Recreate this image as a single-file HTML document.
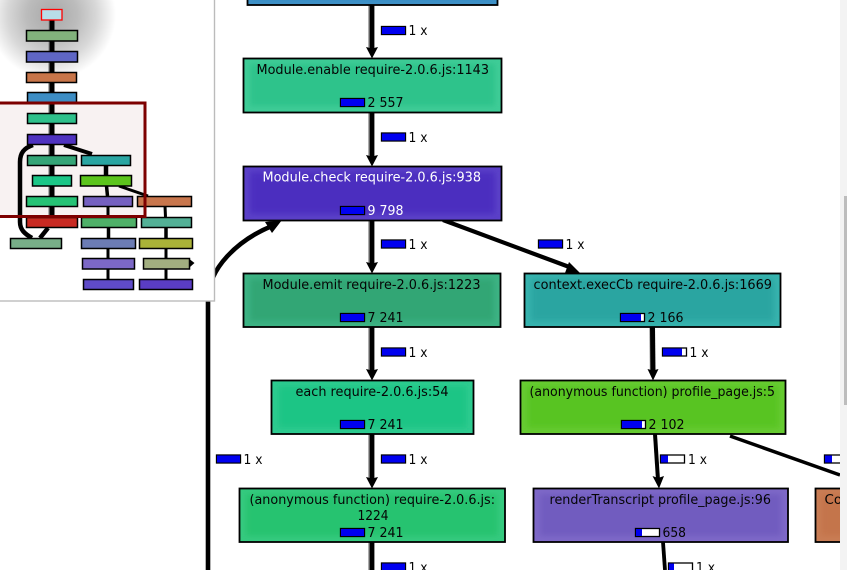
<!DOCTYPE html>
<html>
<head>
<meta charset="utf-8">
<style>
html,body{margin:0;padding:0;background:#fff;width:847px;height:570px;overflow:hidden}
svg{display:block}
text{font-family:"DejaVu Sans","Liberation Sans",sans-serif;font-size:13px;fill:#050505}
.w{fill:#fff}
.e{stroke:#000;fill:none}
.s{stroke:#999;fill:none}
.bar{fill:#fff;stroke:#000;stroke-width:1.3}
.blue{fill:#0000f0}
.m{stroke:#000;stroke-width:1.5}
.o{fill:none;stroke:#000;stroke-width:1.8}
</style>
</head>
<body>
<svg width="847" height="570" viewBox="0 0 847 570" xmlns="http://www.w3.org/2000/svg">
<defs>
<filter id="b" x="-10%" y="-20%" width="120%" height="140%"><feGaussianBlur stdDeviation="3"/></filter>
<filter id="mb" x="-10%" y="-30%" width="120%" height="160%"><feGaussianBlur stdDeviation="0.3"/></filter>
<radialGradient id="glow" cx="52" cy="15" r="64" gradientUnits="userSpaceOnUse">
<stop offset="0" stop-color="#a8a8a8"/><stop offset="0.4" stop-color="#bcbcbc"/><stop offset="0.7" stop-color="#d8d8d8"/><stop offset="1" stop-color="#fff"/>
</radialGradient>
</defs>
<rect width="847" height="570" fill="#fff"/>

<!-- main edges -->
<g>
<path class="s" stroke-width="1.6" d="M369 5V50M369 112V158M369 220V265M369 327V372M369 434V480M369 542V570"/>
<path class="e" stroke-width="4.8" d="M372 5V50M372 112V158M372 220V265M372 327V372M372 434V480M372 542V570"/>
<path fill="#000" d="M366 47L372 48.500L378 47L372 58.500ZM366 155L372 156.500L378 155L372 166.500ZM366 262L372 263.500L378 262L372 273.500ZM366 369L372 370.500L378 369L372 380.500ZM366 477L372 478.500L378 477L372 488.500Z"/>
<path class="e" stroke-width="4.2" d="M443 220L572 268"/>
<path fill="#000" d="M580 273L565 273L569 262Z"/>
<path class="s" stroke-width="1.4" d="M650 327L650.500 372"/>
<path class="e" stroke-width="5" d="M652.500 327L653 372"/>
<path fill="#000" d="M647.500 369L653 370.500L658.500 369L653 380.500Z"/>
<path class="e" stroke-width="4" d="M655 434L658 480"/>
<path fill="#000" d="M652.500 476L658 478L664 476L659 488.500Z"/>
<path class="e" stroke-width="3.500" d="M730 436L840 475"/>
<path class="e" stroke-width="3.800" d="M663 542L665 570"/>
<path class="e" stroke-width="4.600" d="M208 570V300C208 268 238 240 272 226"/>
<path fill="#000" d="M282 220L272 233L265 222Z"/>
</g>

<!-- top node -->
<g><rect x="247.500" y="-20" width="250" height="25" fill="#3f92c8"/><rect x="252" y="-20" width="241" height="21" fill="#388bc2" filter="url(#b)"/><rect class="o" x="247.500" y="-20" width="250" height="25"/></g>

<!-- Module.enable -->
<g><rect x="243.500" y="58.500" width="258" height="54" fill="#3fcc97"/><rect x="250" y="64" width="245" height="42" fill="#2ec38b" filter="url(#b)"/><rect class="o" x="243.500" y="58.500" width="258" height="54"/>
<text x="256.500" y="74" textLength="232.500" lengthAdjust="spacingAndGlyphs">Module.enable require-2.0.6.js:1143</text>
<rect class="bar" x="340.500" y="98.500" width="24" height="8"/><rect class="blue" x="341" y="99" width="23" height="7"/>
<text x="367.500" y="107" textLength="36" lengthAdjust="spacingAndGlyphs">2 557</text></g>

<!-- Module.check -->
<g><rect x="243.500" y="166.500" width="258" height="54" fill="#5b41c8"/><rect x="250" y="172" width="245" height="42" fill="#4b2dbf" filter="url(#b)"/><rect class="o" x="243.500" y="166.500" width="258" height="54"/>
<text class="w" x="262.500" y="181.500" textLength="218.500" lengthAdjust="spacingAndGlyphs">Module.check require-2.0.6.js:938</text>
<rect class="bar" x="340.500" y="206.500" width="24" height="8"/><rect class="blue" x="341" y="207" width="23" height="7"/>
<text class="w" x="367.500" y="215" textLength="36" lengthAdjust="spacingAndGlyphs">9 798</text></g>

<!-- Module.emit -->
<g><rect x="243.500" y="273.500" width="257" height="53.500" fill="#3db384"/><rect x="250" y="279" width="244" height="42" fill="#33a675" filter="url(#b)"/><rect class="o" x="243.500" y="273.500" width="257" height="53.500"/>
<text x="262.500" y="289" textLength="218" lengthAdjust="spacingAndGlyphs">Module.emit require-2.0.6.js:1223</text>
<rect class="bar" x="340.500" y="313.500" width="24" height="8"/><rect class="blue" x="341" y="314" width="23" height="7"/>
<text x="367.500" y="322" textLength="36" lengthAdjust="spacingAndGlyphs">7 241</text></g>

<!-- each -->
<g><rect x="271.500" y="380.500" width="202" height="53.500" fill="#2fcb90"/><rect x="278" y="386" width="189" height="42" fill="#1fc585" filter="url(#b)"/><rect class="o" x="271.500" y="380.500" width="202" height="53.500"/>
<text x="295.500" y="396" textLength="153" lengthAdjust="spacingAndGlyphs">each require-2.0.6.js:54</text>
<rect class="bar" x="340.500" y="420.500" width="24" height="8"/><rect class="blue" x="341" y="421" width="23" height="7"/>
<text x="367.500" y="429" textLength="36" lengthAdjust="spacingAndGlyphs">7 241</text></g>

<!-- anon require -->
<g><rect x="239.500" y="488.500" width="265.500" height="53.500" fill="#36ca7f"/><rect x="246" y="494" width="252" height="42" fill="#26c370" filter="url(#b)"/><rect class="o" x="239.500" y="488.500" width="265.500" height="53.500"/>
<text x="249.500" y="504" textLength="245.500" lengthAdjust="spacingAndGlyphs">(anonymous function) require-2.0.6.js:</text>
<text x="357.500" y="520" textLength="31" lengthAdjust="spacingAndGlyphs">1224</text>
<rect class="bar" x="340.500" y="528.500" width="24" height="8"/><rect class="blue" x="341" y="529" width="23" height="7"/>
<text x="367.500" y="537" textLength="36" lengthAdjust="spacingAndGlyphs">7 241</text></g>

<!-- execCb -->
<g><rect x="524.500" y="273.500" width="256" height="53.500" fill="#37b3ae"/><rect x="531" y="279" width="243" height="42" fill="#2ba5a1" filter="url(#b)"/><rect class="o" x="524.500" y="273.500" width="256" height="53.500"/>
<text x="533.500" y="289" textLength="238.500" lengthAdjust="spacingAndGlyphs">context.execCb require-2.0.6.js:1669</text>
<rect class="bar" x="620.500" y="313.500" width="24" height="8"/><rect class="blue" x="621" y="314" width="20" height="7"/>
<text x="647.500" y="322" textLength="36" lengthAdjust="spacingAndGlyphs">2 166</text></g>

<!-- anon profile -->
<g><rect x="520.500" y="380.500" width="265" height="53.500" fill="#67cb33"/><rect x="527" y="386" width="252" height="42" fill="#58c420" filter="url(#b)"/><rect class="o" x="520.500" y="380.500" width="265" height="53.500"/>
<text x="529.500" y="396" textLength="245.500" lengthAdjust="spacingAndGlyphs">(anonymous function) profile_page.js:5</text>
<rect class="bar" x="621.500" y="420.500" width="24" height="8"/><rect class="blue" x="622" y="421" width="20" height="7"/>
<text x="648.500" y="429" textLength="36" lengthAdjust="spacingAndGlyphs">2 102</text></g>

<!-- renderTranscript -->
<g><rect x="533.500" y="488.500" width="254.500" height="53.500" fill="#7e69c8"/><rect x="540" y="494" width="241" height="42" fill="#715bbf" filter="url(#b)"/><rect class="o" x="533.500" y="488.500" width="254.500" height="53.500"/>
<text x="549.500" y="504" textLength="221.500" lengthAdjust="spacingAndGlyphs">renderTranscript profile_page.js:96</text>
<rect class="bar" x="635.500" y="528.500" width="24" height="8"/><rect class="blue" x="636" y="529" width="6" height="7"/>
<text x="662.500" y="537" textLength="23.500" lengthAdjust="spacingAndGlyphs">658</text></g>

<!-- Co -->
<g><rect x="815.500" y="488.500" width="40" height="53.500" fill="#c97d55"/><rect x="821" y="494" width="34" height="42" fill="#c4754b" filter="url(#b)"/><rect class="o" x="815.500" y="488.500" width="40" height="53.500"/>
<text x="824.500" y="504" textLength="17.500" lengthAdjust="spacingAndGlyphs">Co</text></g>

<!-- edge labels -->
<g>
<rect class="bar" x="381.500" y="26.500" width="24" height="8"/><rect class="blue" x="382" y="27" width="23" height="7"/><text x="408.500" y="35" textLength="19" lengthAdjust="spacingAndGlyphs">1 x</text>
<rect class="bar" x="381.500" y="133" width="24" height="8"/><rect class="blue" x="382" y="133.500" width="23" height="7"/><text x="408.500" y="142" textLength="19" lengthAdjust="spacingAndGlyphs">1 x</text>
<rect class="bar" x="381.500" y="240" width="24" height="8"/><rect class="blue" x="382" y="240.500" width="23" height="7"/><text x="408.500" y="249" textLength="19" lengthAdjust="spacingAndGlyphs">1 x</text>
<rect class="bar" x="381.500" y="348" width="24" height="8"/><rect class="blue" x="382" y="348.500" width="23" height="7"/><text x="408.500" y="357" textLength="19" lengthAdjust="spacingAndGlyphs">1 x</text>
<rect class="bar" x="381.500" y="455" width="24" height="8"/><rect class="blue" x="382" y="455.500" width="23" height="7"/><text x="408.500" y="464" textLength="19" lengthAdjust="spacingAndGlyphs">1 x</text>
<rect class="bar" x="381.500" y="563" width="24" height="8"/><rect class="blue" x="382" y="563.500" width="23" height="7"/><text x="408.500" y="572" textLength="19" lengthAdjust="spacingAndGlyphs">1 x</text>
<rect class="bar" x="216.500" y="455" width="24" height="8"/><rect class="blue" x="217" y="455.500" width="23" height="7"/><text x="243.500" y="464" textLength="19" lengthAdjust="spacingAndGlyphs">1 x</text>
<rect class="bar" x="538.500" y="240" width="24" height="8"/><rect class="blue" x="539" y="240.500" width="23" height="7"/><text x="565.500" y="249" textLength="19" lengthAdjust="spacingAndGlyphs">1 x</text>
<rect class="bar" x="662.500" y="348" width="24" height="8"/><rect class="blue" x="663" y="348.500" width="19" height="7"/><text x="689.500" y="357" textLength="19" lengthAdjust="spacingAndGlyphs">1 x</text>
<rect class="bar" x="660.500" y="455" width="24" height="8"/><rect class="blue" x="661" y="455.500" width="7" height="7"/><text x="688" y="464" textLength="19" lengthAdjust="spacingAndGlyphs">1 x</text>
<rect class="bar" x="824.500" y="455" width="24" height="8"/><rect class="blue" x="825" y="455.500" width="7" height="7"/>
<rect class="bar" x="668.500" y="563" width="24" height="8"/><rect class="blue" x="669" y="563.500" width="5" height="7"/><text x="696" y="572" textLength="19" lengthAdjust="spacingAndGlyphs">1 x</text>
</g>

<!-- scrollbar -->
<rect x="840" y="0" width="7" height="570" fill="#f3f3f3"/>
<rect x="844" y="196" width="3" height="209" fill="#bdbdbd"/>

<!-- minimap panel -->
<rect x="-2" y="-2" width="216.500" height="303" fill="#fff" stroke="#bbb" stroke-width="1.400"/>
<circle cx="52" cy="15" r="64" fill="url(#glow)"/>
<rect x="-5" y="103" width="150" height="113.500" fill="#f8f2f2"/>

<g filter="url(#mb)">
<g fill="none" stroke="#000">
<path stroke="#999" stroke-width="1.500" d="M49 20V217"/>
<path stroke-width="5" d="M52 20V228"/>
<path stroke-width="4.500" d="M33 145C24 148 20 153 20 162V222C20 230 25 234 32 238"/>
<path stroke-width="4.500" d="M48 228L40 238"/>
<path stroke-width="4" d="M64 145L92 154"/>
<path stroke-width="4.500" d="M106 165V176"/>
<path stroke-width="3.500" d="M106.500 186L107.500 196"/>
<path stroke-width="3" d="M119 186L148 196"/>
<path stroke-width="3" d="M108 206V217M165 206L165.500 217"/>
<path stroke-width="3.500" d="M108.500 227V238M166 227V238"/>
<path stroke-width="3" d="M108 248V258M166 248V258M108 269V279M166 269V279"/>
</g>
<g class="m">
<rect x="26.500" y="30.500" width="51" height="10.500" fill="#82b27c" stroke="#000"/>
<rect x="26.500" y="51.500" width="51" height="10.500" fill="#5f66c4" stroke="#000"/>
<rect x="26.500" y="72.500" width="50" height="10" fill="#c87549" stroke="#000"/>
<rect x="27.500" y="92.500" width="49" height="10.500" fill="#3c8dc4" stroke="#000"/>
<rect x="27.500" y="113.500" width="49" height="10" fill="#2dc08b" stroke="#000"/>
<rect x="27.500" y="134.500" width="49" height="10" fill="#5030bf" stroke="#000"/>
<rect x="27.500" y="155.500" width="49" height="10" fill="#35a577" stroke="#000"/>
<rect x="81.500" y="155.500" width="49" height="10" fill="#2ca5a2" stroke="#000"/>
<rect x="32.500" y="175.500" width="39" height="10.500" fill="#1ec687" stroke="#000"/>
<rect x="80.500" y="175.500" width="51" height="10.500" fill="#5cc41f" stroke="#000"/>
<rect x="26.500" y="196.500" width="51" height="10" fill="#28c274" stroke="#000"/>
<rect x="83.500" y="196.500" width="49" height="10" fill="#7560c0" stroke="#000"/>
<rect x="137.500" y="196.500" width="54" height="10" fill="#c8764e" stroke="#000"/>
<rect x="26.500" y="217.500" width="51" height="10" fill="#c82b20" stroke="#000"/>
<rect x="81.500" y="217.500" width="55" height="10" fill="#50b068" stroke="#000"/>
<rect x="141.500" y="217.500" width="50" height="10" fill="#52b096" stroke="#000"/>
<rect x="10.500" y="238.500" width="51" height="10" fill="#78ae88" stroke="#000"/>
<rect x="81.500" y="238.500" width="54" height="10" fill="#6c7cb4" stroke="#000"/>
<rect x="139.500" y="238.500" width="53" height="10" fill="#aab238" stroke="#000"/>
<rect x="82.500" y="258.500" width="52" height="10.500" fill="#7c68c6" stroke="#000"/>
<rect x="143.500" y="258.500" width="46" height="10.500" fill="#a2ae80" stroke="#000"/>
<rect x="83.500" y="279.500" width="50" height="10" fill="#5e4cc8" stroke="#000"/>
<rect x="139.500" y="279.500" width="53" height="10" fill="#5a3cc4" stroke="#000"/>
</g>
<path fill="#000" d="M190 259.500L194.500 263L190 267Z"/>
</g>
<rect x="41.500" y="9.500" width="20.500" height="10.500" fill="#b8dde8" stroke="#f00" stroke-width="1.300"/>

<!-- viewport rectangle -->
<rect x="-5" y="103" width="150" height="113.500" fill="none" stroke="#7d0000" stroke-width="3"/>
</svg>
</body>
</html>
